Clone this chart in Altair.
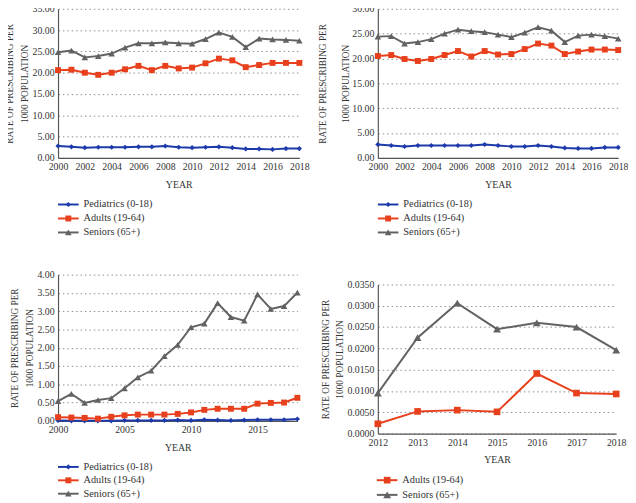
import altair as alt
import pandas as pd

SERIF = "Liberation Serif"
TEXT = "#333333"

series = ["Pediatrics (0-18)", "Adults (19-64)", "Seniors (65+)"]
colors = ["#1c3aa9", "#e8401c", "#626262"]
shapes = ["diamond", "square", "triangle-up"]

years_a = list(range(2000, 2019))
a_ped = [2.8, 2.6, 2.4, 2.5, 2.5, 2.5, 2.6, 2.6, 2.8, 2.5, 2.4, 2.5, 2.6, 2.4, 2.1, 2.1, 2.0, 2.2, 2.2]
a_adu = [20.6, 20.7, 20.0, 19.5, 20.0, 20.8, 21.6, 20.6, 21.6, 21.0, 21.2, 22.2, 23.3, 22.9, 21.3, 21.8, 22.3, 22.3, 22.3]
a_sen = [24.8, 25.2, 23.6, 23.9, 24.5, 25.9, 26.9, 26.9, 27.1, 26.9, 26.8, 27.9, 29.4, 28.4, 26.0, 28.0, 27.8, 27.7, 27.5]

b_ped = [2.7, 2.5, 2.3, 2.5, 2.5, 2.5, 2.5, 2.5, 2.7, 2.5, 2.3, 2.3, 2.5, 2.3, 2.0, 1.9, 1.9, 2.1, 2.1]
b_adu = [20.5, 20.7, 19.9, 19.5, 19.9, 20.7, 21.5, 20.4, 21.5, 20.8, 20.9, 21.9, 23.0, 22.6, 20.9, 21.4, 21.8, 21.8, 21.7]
b_sen = [24.4, 24.5, 23.0, 23.3, 23.9, 25.0, 25.8, 25.5, 25.3, 24.8, 24.3, 25.2, 26.3, 25.6, 23.3, 24.6, 24.8, 24.5, 24.0]

c_ped = [0.01, 0.00, 0.00, 0.00, 0.00, 0.01, 0.01, 0.01, 0.01, 0.02, 0.01, 0.03, 0.02, 0.01, 0.02, 0.03, 0.03, 0.03, 0.05]
c_adu = [0.10, 0.09, 0.08, 0.06, 0.11, 0.15, 0.17, 0.17, 0.17, 0.19, 0.23, 0.30, 0.33, 0.33, 0.33, 0.47, 0.49, 0.50, 0.63]
c_sen = [0.54, 0.74, 0.49, 0.57, 0.62, 0.89, 1.19, 1.37, 1.77, 2.08, 2.56, 2.66, 3.22, 2.84, 2.74, 3.46, 3.06, 3.14, 3.51]

years_d = list(range(2012, 2019))
d_adu = [0.0023, 0.0052, 0.0055, 0.0051, 0.0141, 0.0095, 0.0093]
d_sen = [0.0095, 0.0225, 0.0306, 0.0245, 0.0260, 0.0250, 0.0196]

ticks_a = list(range(2000, 2019, 2))
ticks_c = [2000, 2005, 2010, 2015]
ticks_d = list(range(2012, 2019))
yt_a = [0, 5, 10, 15, 20, 25, 30, 35]
yt_b = [0, 5, 10, 15, 20, 25, 30]
yt_c = [0, 0.5, 1.0, 1.5, 2.0, 2.5, 3.0, 3.5, 4.0]
yt_d = [0, 0.005, 0.01, 0.015, 0.02, 0.025, 0.03, 0.035]

Y_TITLE = ["RATE OF PRESCRIBING PER", "1000 POPULATION"]

color_scale = alt.Scale(domain=series, range=colors)
shape_scale = alt.Scale(domain=series, range=shapes)


def make_panel(years, data, xdomain, xticks, ymax, yticks, yfmt, width, height,
               legend_rows, sizes, lx0=0, top_gap=0, title_lh=15, title_pad=4):
    rows = []
    for name, vals in data:
        for yr, v in zip(years, vals):
            rows.append({"year": yr, "value": v, "series": name})
    df = pd.DataFrame(rows)
    present = [name for name, _ in data]

    size_scale = alt.Scale(domain=series, range=sizes)

    x = alt.X("year:Q",
              scale=alt.Scale(domain=xdomain, nice=False, zero=False),
              axis=alt.Axis(values=xticks, format="d", title="YEAR", grid=False,
                            ticks=False, labelPadding=4, titlePadding=8,
                            titleFontSize=10, labelFlush=False))
    y = alt.Y("value:Q",
              scale=alt.Scale(domain=[0, ymax], nice=False, range=[height, top_gap]),
              axis=alt.Axis(values=yticks, format=yfmt, title=Y_TITLE, grid=True,
                            gridDash=[1.5, 3], gridColor="#8c8c8c", gridWidth=1,
                            ticks=False, labelPadding=4, titlePadding=title_pad,
                            titleLineHeight=title_lh, titleFontSize=9.5))
    col = alt.Color("series:N", scale=color_scale, legend=None)
    shp = alt.Shape("series:N", scale=shape_scale, legend=None)
    siz = alt.Size("series:N", scale=size_scale, legend=None)

    base = alt.Chart(df)
    line = base.mark_line(strokeWidth=2).encode(x=x, y=y, color=col)
    pts = base.mark_point(filled=True, opacity=1).encode(x=x, y=y, color=col, shape=shp, size=siz)

    ldf = pd.DataFrame({"series": present})
    ly = alt.Y("series:N",
               scale=alt.Scale(type="point", domain=present,
                               range=[r + top_gap for r in legend_rows], padding=0),
               axis=None)
    lbase = alt.Chart(ldf)
    lrule = lbase.mark_rule(strokeWidth=2).encode(
        x=alt.value(lx0), x2=alt.value(lx0 + 21), y=ly, color=col)
    lpts = lbase.mark_point(filled=True, opacity=1).encode(
        x=alt.value(lx0 + 10.5), y=ly, color=col, shape=shp, size=siz)
    ltxt = lbase.mark_text(align="left", baseline="middle", font=SERIF,
                           fontSize=10.5, color=TEXT).encode(
        x=alt.value(lx0 + 26), y=ly, text="series:N")

    return alt.layer(alt.layer(line, pts), alt.layer(lrule, lpts, ltxt)).resolve_scale(
        y="independent").properties(width=width, height=height)


p1 = make_panel(years_a, [(series[0], a_ped), (series[1], a_adu), (series[2], a_sen)],
                [2000, 2018], ticks_a, 35, yt_a, ".2f", 246, 152,
                [199.5, 228], [28, 45, 45], title_lh=15, title_pad=3)
p2 = make_panel(years_a, [(series[0], b_ped), (series[1], b_adu), (series[2], b_sen)],
                [2000, 2018], ticks_a, 30, yt_b, ".2f", 245, 152,
                [199.5, 228], [28, 45, 45], title_lh=24, title_pad=1)
p3 = make_panel(years_a, [(series[0], c_ped), (series[1], c_adu), (series[2], c_sen)],
                [2000, 2018], ticks_c, 4, yt_c, ".2f", 244, 149,
                [196, 223.3], [28, 45, 45], title_lh=15, title_pad=3)
p4 = make_panel(years_d, [(series[1], d_adu), (series[2], d_sen)],
                [2012, 2018], ticks_d, 0.035, yt_d, ".4f", 243, 162,
                [199.5, 214.5], [28, 64, 55], lx0=-1, top_gap=10,
                title_lh=15, title_pad=2)

chart = alt.concat(
    p1, p2, p3, p4, columns=2, spacing={"row": 119, "column": 80}, bounds="flush"
).resolve_scale(
    size="independent", y="independent", x="independent"
).properties(
    padding={"left": -4, "top": -9, "right": 0, "bottom": 0},
    background="white",
).configure_view(
    stroke=None
).configure_axis(
    labelFont=SERIF, titleFont=SERIF, labelFontSize=10,
    labelColor=TEXT, titleColor=TEXT, titleFontWeight="normal",
    domainColor="#555555", domainWidth=1.2,
)

chart.save("out.html", embed_options={"renderer": "svg", "actions": False})
